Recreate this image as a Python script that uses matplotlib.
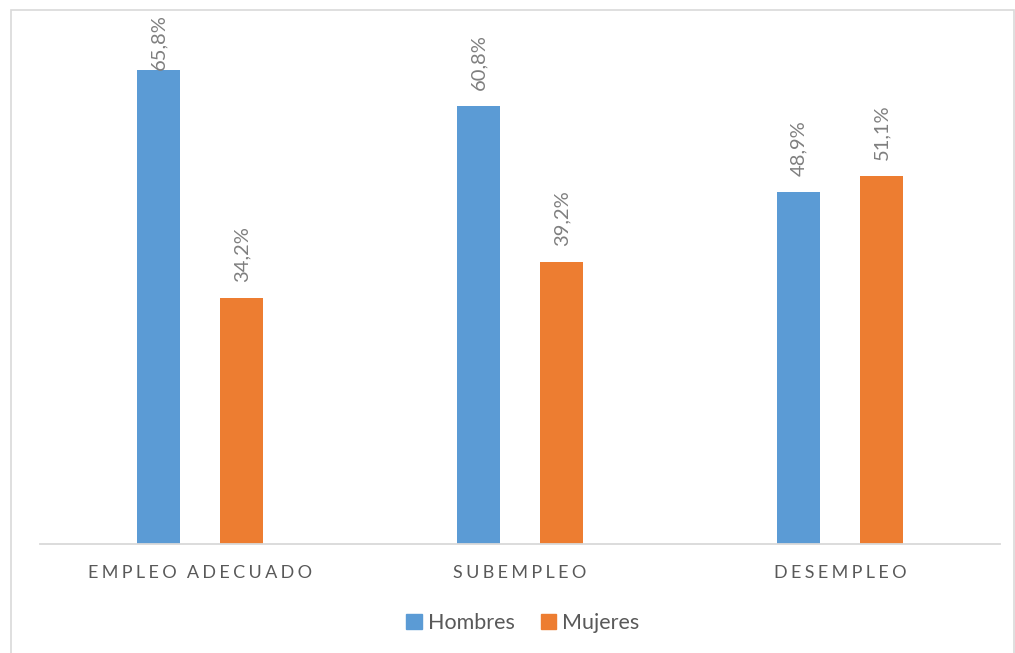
import numpy as np
import matplotlib.pyplot as plt
from matplotlib.patches import Rectangle, Patch

plt.rcParams['font.family'] = ['Lato', 'DejaVu Sans']

categorias = ['EMPLEO ADECUADO', 'SUBEMPLEO', 'DESEMPLEO']
hombres = [65.8, 60.8, 48.9]
mujeres = [34.2, 39.2, 51.1]
series = ['Hombres', 'Mujeres']

azul = '#5B9BD5'
naranja = '#ED7D31'
gris_txt = '#595959'

fig = plt.figure(figsize=(10.15, 6.53), dpi=100)
fig.patches.append(Rectangle((11 / 1015, -0.05), 1003 / 1015, 1.05 - 10 / 653,
                             transform=fig.transFigure, fill=False,
                             edgecolor='#d9d9d9', linewidth=1.2))

ax = fig.add_axes([40 / 1015, 1 - 544 / 653, 960 / 1015, 534 / 653])
x = np.arange(len(categorias))
ancho = 0.134
off = 0.13
b1 = ax.bar(x - off, hombres, ancho, color=azul, label=series[0])
b2 = ax.bar(x + off, mujeres, ancho, color=naranja, label=series[1])

ax.set_xlim(-0.5, 2.5)
ax.set_ylim(0, 534 / 7.2)

# etiquetas de datos rotadas
for barras, vals in [(b1, hombres), (b2, mujeres)]:
    for b, v in zip(barras, vals):
        xc = b.get_x() + b.get_width() / 2
        pad = 16 if v < 65 else 0
        ax.annotate(f'{v:.1f}%'.replace('.', ','), (xc, v),
                    xytext=(0, pad), textcoords='offset pixels',
                    rotation=90, ha='center', va='bottom', fontsize=14.5,
                    color='#7f7f7f', annotation_clip=False)

for s in ['top', 'right', 'left']:
    ax.spines[s].set_visible(False)
ax.spines['bottom'].set_color('#d9d9d9')
ax.spines['bottom'].set_linewidth(1.3)
ax.set_yticks([])
ax.set_xticks(x)
sep = '\u2009\u200a'
ax.set_xticklabels([sep.join(c).replace(sep + ' ' + sep, sep * 3) for c in categorias],
                   fontsize=13, color=gris_txt)
ax.tick_params(axis='x', length=0, pad=15)

handles = [Patch(color=azul), Patch(color=naranja)]
fig.legend(handles, series, loc='center', bbox_to_anchor=(523 / 1015, 1 - 623 / 653),
           ncol=2, frameon=False, fontsize=15.5, handlelength=0.7, handleheight=0.7,
           handletextpad=0.3, columnspacing=1.2, labelcolor=gris_txt)

fig.savefig('out.png', dpi=100)
